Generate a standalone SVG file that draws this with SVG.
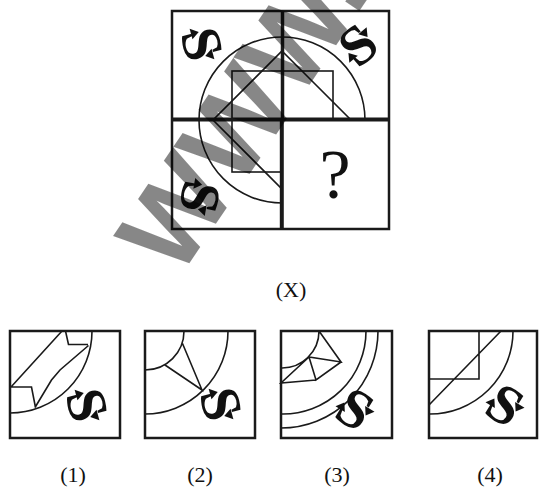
<svg xmlns="http://www.w3.org/2000/svg" width="539" height="489" viewBox="0 0 539 489">
<style>
.frame{fill:none;stroke:#1a1a1a;stroke-width:2.5}
.thin{fill:none;stroke:#1a1a1a;stroke-width:1.6}
.bar{stroke:#1a1a1a;fill:none}
.sym{font-family:"Liberation Serif","Times New Roman",serif;font-weight:bold;font-size:56px;fill:#111}
.lbl{font-family:"Liberation Serif","Times New Roman",serif;font-size:22px;fill:#111;text-anchor:middle}
.q{font-family:"Liberation Serif","Times New Roman",serif;font-size:70px;fill:#111;text-anchor:middle}
.wm{font-family:"Liberation Sans",Arial,sans-serif;font-weight:bold;font-size:114px;fill:#000;fill-opacity:0.47}
</style>
<defs>
<clipPath id="c3"><path d="M172,11 H389 V120 H282 V229 H172 Z"/></clipPath>
<g id="s">
<text class="sym" x="0" y="18.5" text-anchor="middle">S</text>
<path d="M7,-8 L18,-8 L12.5,0 Z" fill="#111"/>
<path d="M-7,8 L-18,8 L-12.5,0 Z" fill="#111"/>
</g>
</defs>
<g id="puzzle-x">
<rect class="frame" x="172" y="11" width="217" height="218"/>
<g clip-path="url(#c3)" class="thin">
<circle cx="282" cy="120" r="83"/>
<rect x="232" y="71" width="101" height="101"/>
<polygon points="282,51 351,120 282,189 213,120"/>
</g>
<line class="bar" x1="172" y1="119.5" x2="389" y2="119.5" stroke-width="4"/>
<line class="bar" x1="282.5" y1="11" x2="282.5" y2="119.5" stroke-width="3.5"/>
<line class="bar" x1="281.8" y1="119.5" x2="281.8" y2="229" stroke-width="4"/>
<text class="q" x="335" y="198">?</text>
<use href="#s" transform="translate(202,44) rotate(75)"/>
<use href="#s" transform="translate(358,45) rotate(-40)"/>
<use href="#s" transform="translate(200,197) rotate(100)"/>
</g>
<text id="label-x" class="lbl" x="291" y="297">(X)</text>
<g id="option-1">
<rect class="frame" x="10" y="331" width="110" height="107"/>
<path class="thin" d="M92,331 A82,82 0 0 1 10,413 M11,387 L62,331 M65.5,331 L68.5,344.5 L88,344.5 M88.5,345.5 L60,370 L51.5,380 L35,407.5 M10,387 L31.5,387 L35.5,407.5"/>
<use href="#s" transform="translate(87,405) rotate(75)"/>
<text class="lbl" x="73" y="482">(1)</text>
</g>
<g id="option-2">
<rect class="frame" x="145" y="331" width="110" height="107"/>
<path class="thin" d="M228,331 A83,83 0 0 1 145,414 M184,331 A39,39 0 0 1 145,370 M182.5,343.5 L202,390 L165,365"/>
<use href="#s" transform="translate(221,404) rotate(75)"/>
<text class="lbl" x="200" y="482">(2)</text>
</g>
<g id="option-3">
<rect class="frame" x="281" y="331" width="111" height="107"/>
<path class="thin" d="M378,331 A97,97 0 0 1 281,428 M366,331 A83,83 0 0 1 281,414 M319,331 A37,37 0 0 1 281,368 M319,331 L341,362 L309,357 L316,380 L341,362 M309,357 L281,383 L316,380"/>
<use href="#s" transform="translate(355,409) rotate(32)"/>
<text class="lbl" x="337" y="482">(3)</text>
</g>
<g id="option-4">
<rect class="frame" x="429" y="331" width="108" height="107"/>
<path class="thin" d="M513,331 A83,83 0 0 1 429,414 M479,331 V379 H429 M429,405 L501,331"/>
<use href="#s" transform="translate(505,405) rotate(32)"/>
<text class="lbl" x="490" y="482">(4)</text>
</g>
<text class="wm" transform="translate(178,280) rotate(-56)">WWW.J</text>
</svg>
